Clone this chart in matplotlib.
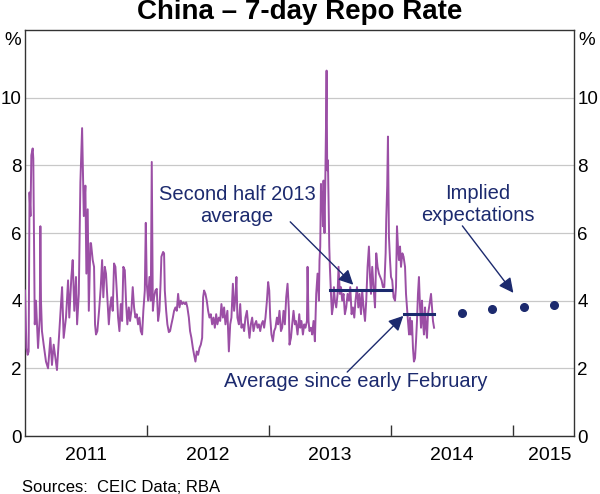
import matplotlib
import matplotlib.pyplot as plt
import numpy as np

matplotlib.use("Agg")

plt.rcParams['font.family'] = ['Liberation Sans', 'DejaVu Sans']

purple = '#9b4fa5'
navy = '#1c2a6e'

# years since the start of 2011
t = [0.000, 0.012, 0.022, 0.030, 0.037, 0.045, 0.052, 0.063, 0.068, 0.080,
     0.090, 0.107, 0.121, 0.126, 0.131, 0.139, 0.153, 0.172, 0.189, 0.208,
     0.221, 0.235, 0.249, 0.262, 0.276, 0.295, 0.304, 0.317, 0.336, 0.353,
     0.363, 0.380, 0.391, 0.404, 0.418, 0.427, 0.441, 0.454, 0.468, 0.482,
     0.495, 0.503, 0.514, 0.523, 0.536, 0.541, 0.555, 0.566, 0.574, 0.582,
     0.593, 0.607, 0.621, 0.632, 0.642, 0.654, 0.664, 0.675, 0.687, 0.697,
     0.708, 0.719, 0.730, 0.741, 0.752, 0.763, 0.774, 0.785, 0.796, 0.806,
     0.818, 0.829, 0.839, 0.851, 0.861, 0.872, 0.883, 0.894, 0.905, 0.916,
     0.927, 0.938, 0.949, 0.960, 0.970, 0.982, 0.990, 0.998, 1.009, 1.020,
     1.031, 1.039, 1.048, 1.058, 1.069, 1.080, 1.091, 1.102, 1.111, 1.118,
     1.132, 1.140, 1.146, 1.157, 1.167, 1.179, 1.189, 1.200, 1.212, 1.222,
     1.233, 1.244, 1.255, 1.266, 1.277, 1.288, 1.299, 1.310, 1.321, 1.331,
     1.343, 1.353, 1.364, 1.376, 1.386, 1.397, 1.408, 1.419, 1.430, 1.441,
     1.452, 1.460, 1.468, 1.479, 1.490, 1.501, 1.512, 1.523, 1.534, 1.545,
     1.556, 1.567, 1.577, 1.589, 1.600, 1.610, 1.622, 1.632, 1.643, 1.659,
     1.671, 1.682, 1.692, 1.704, 1.714, 1.725, 1.733, 1.741, 1.753, 1.764,
     1.774, 1.786, 1.796, 1.807, 1.819, 1.829, 1.840, 1.851, 1.862, 1.873,
     1.884, 1.895, 1.906, 1.917, 1.928, 1.938, 1.950, 1.960, 1.971, 1.983,
     1.993, 2.002, 2.010, 2.020, 2.032, 2.042, 2.053, 2.065, 2.075, 2.086,
     2.098, 2.108, 2.119, 2.130, 2.141, 2.152, 2.163, 2.168, 2.180, 2.190,
     2.201, 2.212, 2.221, 2.234, 2.248, 2.256, 2.266, 2.278, 2.289, 2.299,
     2.311, 2.316, 2.324, 2.332, 2.344, 2.354, 2.365, 2.376, 2.387, 2.398,
     2.409, 2.414, 2.420, 2.426, 2.431, 2.436, 2.442, 2.447, 2.455, 2.461,
     2.467, 2.472, 2.477, 2.483, 2.488, 2.494, 2.499, 2.508, 2.516, 2.524,
     2.532, 2.540, 2.551, 2.562, 2.570, 2.581, 2.590, 2.600, 2.611, 2.622,
     2.633, 2.644, 2.655, 2.666, 2.677, 2.688, 2.699, 2.709, 2.721, 2.732,
     2.742, 2.754, 2.764, 2.775, 2.787, 2.797, 2.808, 2.819, 2.828, 2.836,
     2.846, 2.857, 2.869, 2.879, 2.890, 2.901, 2.912, 2.923, 2.934, 2.945,
     2.956, 2.961, 2.969, 2.975, 2.983, 2.992, 3.000, 3.010, 3.021, 3.033,
     3.041, 3.049, 3.057, 3.065, 3.074, 3.082, 3.093, 3.103, 3.115, 3.123,
     3.131, 3.139, 3.148, 3.156, 3.164, 3.172, 3.180, 3.188, 3.197, 3.205,
     3.213, 3.221, 3.229, 3.238, 3.246, 3.254, 3.262, 3.270, 3.279, 3.287,
     3.295, 3.303, 3.312, 3.320, 3.328, 3.336, 3.344, 3.353]

repo = [4.3, 2.6, 2.4, 2.5, 7.2, 6.5, 8.3, 8.5, 8.2, 3.3,
        4.0, 2.6, 3.5, 6.2, 4.0, 3.1, 2.7, 2.2, 2.0, 2.9,
        2.1, 2.7, 2.3, 1.95, 2.8, 3.9, 4.4, 2.9, 3.5, 4.6,
        3.5, 4.7, 5.2, 3.7, 4.7, 3.3, 4.2, 7.5, 9.1, 6.5,
        7.4, 4.8, 6.7, 3.7, 5.7, 5.7, 5.2, 5.0, 3.3, 3.0,
        3.1, 3.7, 4.4, 5.2, 4.1, 5.0, 4.8, 4.1, 3.3, 3.8,
        4.1, 3.7, 5.1, 5.0, 4.3, 3.5, 3.1, 3.9, 3.4, 5.0,
        4.9, 3.9, 3.3, 3.8, 3.4, 3.7, 4.4, 3.8, 3.5, 3.6,
        3.3, 3.5, 3.1, 3.0, 3.7, 4.3, 6.3, 4.5, 4.0, 4.7,
        4.0, 8.1, 3.7, 4.1, 4.3, 4.35, 3.4, 3.7, 4.5, 5.3,
        5.44, 5.4, 4.3, 3.7, 3.3, 3.07, 3.1, 3.3, 3.5, 3.7,
        3.8, 3.7, 4.2, 3.8, 4.0, 3.9, 3.95, 3.9, 3.95, 3.8,
        3.5, 3.1, 2.9, 2.6, 2.4, 2.2, 2.5, 2.4, 2.6, 2.7,
        2.9, 4.1, 4.3, 4.2, 4.0, 3.7, 3.5, 3.6, 3.3, 3.5,
        3.2, 3.6, 3.3, 3.5, 3.4, 3.9, 3.5, 3.8, 3.3, 3.7,
        2.5, 3.3, 3.5, 4.5, 3.7, 4.1, 4.7, 3.5, 3.3, 3.9,
        3.2, 3.3, 3.1, 3.5, 3.7, 3.3, 2.9, 3.3, 3.5, 3.1,
        3.3, 3.4, 3.2, 3.3, 3.1, 3.3, 3.4, 3.2, 3.5, 4.0,
        4.55, 4.3, 3.5, 3.0, 2.8, 3.1, 3.2, 3.5, 3.3, 3.7,
        3.1, 3.2, 3.7, 3.3, 4.1, 4.5, 3.7, 2.7, 2.9, 3.3,
        3.7, 3.3, 3.4, 3.0, 3.6, 3.2, 3.4, 3.0, 3.3, 3.2,
        3.4, 5.0, 3.4, 3.1, 3.2, 3.0, 3.4, 2.8, 4.2, 4.8,
        4.0, 5.2, 5.6, 7.45, 6.7, 7.2, 6.2, 7.55, 6.0, 7.4,
        9.1, 10.8, 7.85, 8.15, 7.0, 5.6, 5.0, 4.2, 3.6, 3.8,
        4.4, 4.0, 3.8, 4.2, 5.0, 4.2, 4.4, 4.0, 4.2, 3.6,
        3.8, 4.2, 4.0, 4.4, 3.6, 3.8, 3.5, 4.0, 4.4, 3.8,
        4.2, 3.6, 4.3, 3.8, 3.4, 4.0, 5.0, 5.6, 4.7, 4.2,
        5.0, 4.4, 3.8, 5.4, 5.0, 4.8, 4.7, 4.6, 4.4, 4.4,
        5.4, 6.4, 7.4, 8.85, 5.9, 5.2, 4.7, 4.6, 4.1, 4.0,
        4.4, 6.2, 5.6, 5.2, 5.6, 5.0, 5.4, 5.3, 5.0, 4.2,
        3.8, 3.4, 3.0, 3.5, 3.0, 3.4, 2.6, 2.2, 2.3, 2.8,
        3.4, 4.2, 4.7, 3.8, 3.2, 4.0, 3.4, 3.0, 3.8, 3.2,
        2.9, 3.6, 3.8, 4.0, 4.2, 3.8, 3.4, 3.2]

# period averages: (start, end, value)
avg_h2_2013 = (2013.5, 2014.0, 4.32)
avg_since_feb = (2014.11, 2014.35, 3.61)

# implied expectations
exp_dates = [2014.585, 2014.831, 2015.093, 2015.339]
exp_rates = [3.64, 3.76, 3.82, 3.88]

years = [2011, 2012, 2013, 2014, 2015]

dates = 2011 + np.array(t)

fig = plt.figure(figsize=(6.0, 4.94), dpi=100)
ax = fig.add_axes((25 / 600, 1 - 436 / 494, 549 / 600, 406 / 494))

ax.plot(dates, repo, color=purple, lw=1.4, zorder=3)
ax.plot(avg_h2_2013[:2], [avg_h2_2013[2]] * 2, color=navy, lw=2.2, zorder=4)
ax.plot(avg_since_feb[:2], [avg_since_feb[2]] * 2, color=navy, lw=2.2, zorder=4)
ax.plot(exp_dates, exp_rates, 'o', color=navy, ms=5.5, zorder=4)

ax.set_xlim(2011, 2015.5)
ax.set_ylim(0, 12)

# y axis on both sides
ax.set_yticks([0, 2, 4, 6, 8, 10])
ax.yaxis.grid(True, color='#c8c8c8', lw=0.9)
ax.set_axisbelow(True)
ax.tick_params(axis='y', length=0, labelsize=13.5, pad=2.5,
               labelleft=True, labelright=True)
ax.text(-0.008, 11.7, '%', transform=ax.get_yaxis_transform(),
        ha='right', va='center', fontsize=13.5)
ax.text(1.008, 11.7, '%', transform=ax.get_yaxis_transform(),
        ha='left', va='center', fontsize=13.5)

# year boundaries as ticks, labels at mid-year
ax.set_xticks(years[1:])
ax.set_xticklabels([])
ax.set_xticks([y + 0.5 for y in years[:-1]] + [2015.3], minor=True)
ax.set_xticklabels([str(y) for y in years], minor=True)
ax.tick_params(axis='x', which='major', direction='in', length=8,
               color='#333333', width=1)
ax.tick_params(axis='x', which='minor', length=0, labelsize=14, pad=8)

for s in ax.spines.values():
    s.set_color('#333333')
    s.set_linewidth(1)

arrow = dict(arrowstyle='-|>', color=navy, lw=1, mutation_scale=22,
             shrinkA=0, shrinkB=0)
ax.text(2012.739, 6.8, 'Second half 2013\naverage', ha='center',
        va='center', fontsize=14.5, color=navy, linespacing=1.2)
ax.annotate('', xy=(2013.691, 4.47), xytext=(2013.174, 6.33),
            arrowprops=arrow)
ax.text(2014.708, 6.83, 'Implied\nexpectations', ha='center',
        va='center', fontsize=14.5, color=navy, linespacing=1.2)
ax.annotate('', xy=(2015.003, 4.23), xytext=(2014.585, 6.21),
            arrowprops=arrow)
ax.text(2013.714, 1.6, 'Average since early February', ha='center',
        va='center', fontsize=14.5, color=navy)
ax.annotate('', xy=(2014.101, 3.55), xytext=(2013.641, 1.89),
            arrowprops=arrow)

fig.text(0.5, 0.975, 'China \u2013 7-day Repo Rate', ha='center',
         va='center', fontsize=20, fontweight='bold')
fig.text(22 / 600, 1 - 487 / 494, 'Sources:  CEIC Data; RBA', ha='left',
         va='center', fontsize=12)

fig.savefig('out.png', dpi=100)
